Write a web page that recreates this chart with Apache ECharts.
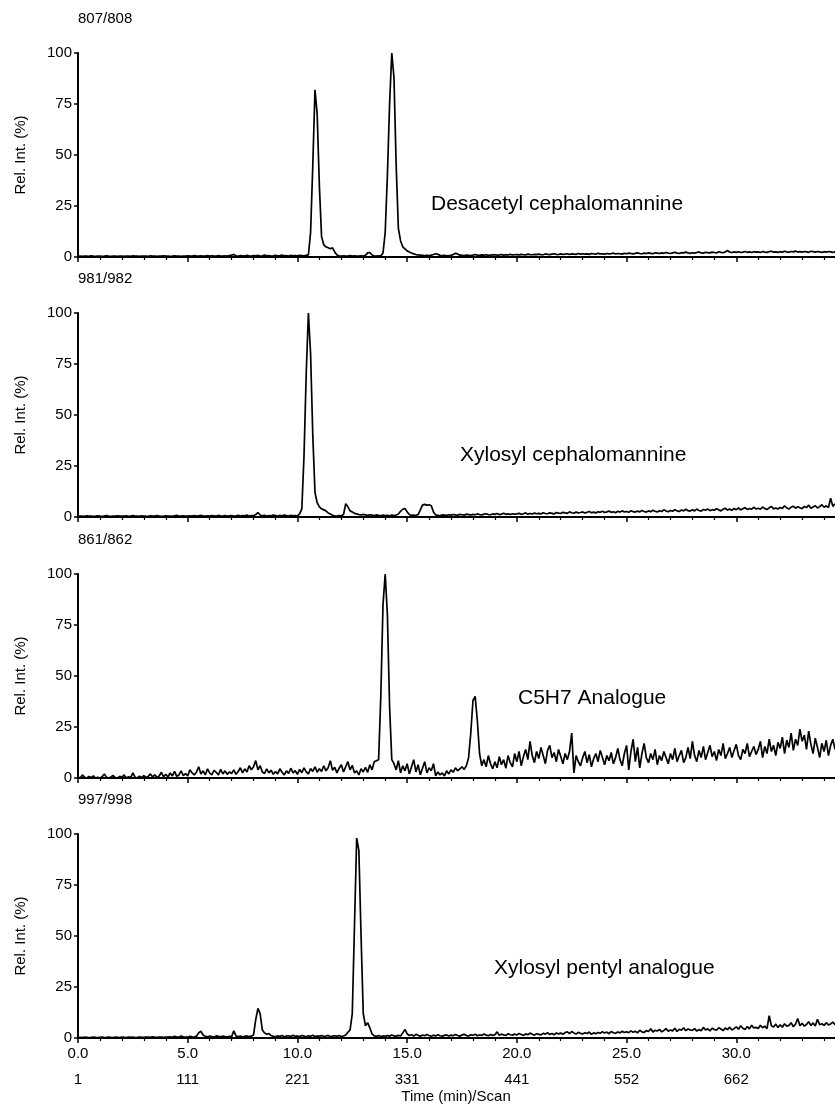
<!DOCTYPE html>
<html>
<head>
<meta charset="utf-8">
<script src="https://cdn.jsdelivr.net/npm/echarts@6/dist/echarts.min.js"></script>
<style>
  html, body { margin: 0; padding: 0; background: #fff; }
  #chart { width: 835px; height: 1105px; }
</style>
</head>
<body>
<div id="chart"></div>
<script>
// one point every 0.1 min
const timeStep = 0.1;
const timeTicks = ['0.0', '5.0', '10.0', '15.0', '20.0', '25.0', '30.0'];
const scanTicks = ['1', '111', '221', '331', '441', '552', '662'];
const ionLabels = ['807/808', '981/982', '861/862', '997/998'];
const compoundNames = ['Desacetyl cephalomannine', 'Xylosyl cephalomannine', 'C5H7 Analogue', 'Xylosyl pentyl analogue'];

const trace807 = [
  0.3,0.4,0.3,0.5,0.4,0.3,0.6,0.4,0.3,0.4,
  0.5,0.3,0.4,0.6,0.4,0.3,0.5,0.4,0.3,0.5,
  0.4,0.3,0.5,0.4,0.3,0.6,0.4,0.5,0.3,0.4,
  0.5,0.4,0.3,0.6,0.5,0.4,0.3,0.5,0.4,0.6,
  0.4,0.5,0.3,0.4,0.6,0.5,0.4,0.3,0.5,0.4,
  0.6,0.4,0.5,0.7,0.4,0.5,0.6,0.4,0.5,0.7,
  0.5,0.6,0.4,0.5,0.7,0.5,0.4,0.6,0.5,0.7,
  0.9,1.2,0.6,0.5,0.7,0.6,0.5,0.8,0.6,0.5,
  0.7,0.6,0.8,0.5,0.6,0.9,0.6,0.7,0.5,0.6,
  0.8,0.6,0.7,0.9,0.6,0.7,0.5,0.8,0.6,0.7,
  0.6,0.8,0.7,0.6,0.8,1.0,12,45,82,70,
  35,10,6,5,4.5,4,4.5,2.5,1,0.6,
  0.5,0.6,0.4,0.5,0.7,0.5,0.6,0.5,0.4,0.6,
  0.5,0.8,2,2.2,1,0.6,0.5,0.6,0.5,2,
  12,40,75,100,88,45,14,8,5,4,
  3,2.5,2,1.5,1.2,1,0.9,0.8,0.7,0.8,
  0.7,0.9,1.2,1.6,1.3,0.8,0.7,0.8,0.6,0.7,
  0.8,1.2,1.8,1.5,0.9,0.8,0.7,0.9,0.8,0.7,
  0.9,1.2,0.9,0.8,1,0.9,1.1,0.8,0.9,1,
  1.1,0.9,1,1.2,0.9,1.1,1,1.3,1,1.1,
  1.2,1,1.3,1.1,1,1.4,1.2,1.1,1.3,1.2,
  1.4,1.2,1.1,1.5,1.3,1.2,1.4,1.6,1.3,1.2,
  1.5,1.3,1.4,1.6,1.2,1.5,1.4,1.3,1.7,1.4,
  1.6,1.4,1.5,1.3,1.7,1.5,1.4,1.8,1.5,1.6,
  1.4,1.7,1.5,1.6,1.9,1.5,1.7,1.6,1.4,1.8,
  1.6,1.9,1.7,1.5,1.8,2,1.7,1.6,1.9,1.7,
  2,1.8,1.6,2.1,1.9,1.7,2,1.8,2.2,1.9,
  1.7,2,2.3,1.9,1.8,2.1,2,2.4,2,1.8,
  2.1,1.9,2.2,2.5,2,1.9,2.3,2.1,2,2.4,
  2.2,2,2.6,2.3,2.1,2.5,3.2,2.4,2.2,2.5,
  2.3,2.6,2.2,2.4,2.7,2.3,2.5,2.2,2.6,2.4,
  2.5,2.2,2.7,2.4,2.3,2.6,2.8,2.4,2.5,2.3,
  2.6,2.4,2.8,2.5,2.3,2.7,2.5,2.9,2.4,2.6,
  2.4,2.7,2.5,2.3,2.8,2.6,2.4,2.7,2.5,2.3,
  2.6,2.4,2.7,2.5,2.3,2.5
];

const trace981 = [
  0.3,0.5,0.4,0.3,0.6,0.4,0.5,0.3,0.4,0.6,
  0.4,0.3,0.5,0.7,0.4,0.3,0.5,0.4,0.6,0.5,
  0.5,0.4,0.6,0.3,0.5,0.7,0.4,0.5,0.3,0.6,
  0.5,0.4,0.3,0.6,0.5,0.4,0.7,0.5,0.3,0.4,
  0.6,0.4,0.5,0.3,0.6,0.8,0.5,0.4,0.6,0.5,
  0.4,0.6,0.5,0.7,0.4,0.6,0.8,0.5,0.4,0.6,
  0.5,0.7,0.6,0.4,0.8,0.6,0.5,0.7,0.4,0.6,
  0.7,0.5,0.6,0.8,0.5,0.7,0.6,0.9,0.5,0.7,
  0.6,1.2,2.2,1,0.6,0.8,0.5,0.7,0.6,0.9,
  0.7,0.5,0.8,0.6,0.9,0.7,0.5,0.8,0.6,0.7,
  0.5,1.5,4,30,70,100,80,40,12,7,
  5,4,3.5,3,2,1.5,0.8,0.6,0.5,0.7,
  0.6,1.2,6.5,5,3,2.5,1.8,1.5,1.2,1,
  1.3,1,0.8,1.1,0.9,0.7,1,0.8,0.6,0.9,
  0.7,0.8,0.6,0.9,0.7,1,1.5,2.8,3.8,4.2,
  2.5,1.2,0.8,0.9,0.7,1.2,3.5,5.8,6.2,5.8,
  6,5.5,2.5,1,0.8,0.7,1,0.9,0.8,1.1,
  0.9,1.2,1,0.8,1.3,1.1,0.9,1.4,1.2,1,
  1.3,1.1,1.5,1.2,1,1.4,1.6,1.2,1.1,1.5,
  1.3,1.7,1.2,1.4,1.8,1.3,1.5,1.2,1.6,1.4,
  1.5,1.8,1.3,1.6,2,1.4,1.7,1.5,1.9,1.6,
  1.8,1.5,2.1,1.7,1.6,2,1.8,1.5,2.2,1.9,
  1.7,2.3,2,1.8,2.5,2.1,1.9,2.4,2,2.2,
  2.5,2,2.3,2.7,2.1,2.4,2,2.6,2.3,2.8,
  2.2,2.5,2.9,2.3,2.6,2.1,2.8,2.4,3,2.5,
  2.7,2.3,3.1,2.6,2.4,2.9,2.5,3.2,2.7,2.4,
  3,2.6,3.3,2.8,2.5,3.1,2.7,3.5,2.9,2.6,
  3.2,2.8,3.6,3,2.7,3.4,3,3.8,3.1,2.9,
  3.5,3,3.9,3.2,2.9,3.7,3.3,4,3.1,3.6,
  3.3,4.1,3.5,3,3.8,4.3,3.4,3.9,3.2,4.2,
  3.6,4.4,3.5,4,4.6,3.7,4.2,3.8,4.8,3.9,
  4.3,3.8,4.9,4.1,3.7,4.5,5.2,4,4.4,3.9,
  4.7,4.2,5.5,4.4,3.9,4.8,5.3,4.3,5,4.5,
  4.1,5.2,4.6,5.8,4.3,4.9,5.5,4.4,5.1,6,
  4.8,5.5,4.6,9.2,5.2,6.5
];

const trace861 = [
  0.5,0,1.5,0.3,0,0.8,0.2,1,0,0.4,
  0,0.6,2,0.3,0,0.5,1.2,0.2,0,0.8,
  0.3,1.5,0,0.6,0.2,2.5,0.4,0,0.9,0.3,
  1.2,0.2,0.8,2,0.5,1.5,0.3,1,2.8,0.6,
  1.8,0.5,2.5,1,3.2,0.8,1.5,3.5,1.2,2.2,
  1,4,2.5,1.5,3,5.5,2,3.5,1.5,4.5,
  2.5,1.5,3.8,2.8,1.5,4.2,2,3.5,1.8,3,
  2.2,4,1.8,3.2,5,2.5,4.5,3,6,4,
  5.5,8.5,4,6,3,2.2,4.5,2.5,3.8,1.8,
  3.2,2,4.5,2.8,1.5,3.5,2.2,4.8,2.5,3.6,
  1.8,4.2,2.6,5,3,2,4.6,3.2,5.5,2.8,
  4.5,3.2,6,3.5,5,8.5,3.8,5.2,2.5,4.8,
  6.5,3,5.5,8,4,6.2,2.5,3.5,1.5,4.5,
  3,5.2,2.8,6.5,4,8,8.5,9,40,85,
  100,80,35,9,7,4,8.5,2.5,6,3.5,
  7,2,5.5,9,3,6.5,1.5,4.8,8,2.5,
  5,3.5,7,1,3,1.5,2.5,1,3.5,2,
  4,2.8,5,3.5,4.5,5.5,4.2,6,10,22,
  38,40,28,12,6,9,5.5,11,7,4.5,
  8,5,10.5,6.5,9,4.8,11,7.5,5.5,12,
  8,13,6,10.5,14,9,18,11,7.5,13,
  9.5,15,11,7,13.5,16,10,12.5,8,14,
  10.5,7,12,9,13,22,2.5,11,8,6,
  10,13,7.5,11.5,5.5,9.5,12,8,13.5,10,
  6.5,11,8.5,12.5,7,10,14.5,9,6,12,
  16,4,13,19,8,15,5,12,17,10,
  7.5,12,9,14,6.5,11,8.5,13,10,7,
  12,9,14.5,8,11,13.5,7.5,10,15,9.5,
  18,11,8,13.5,10,15.5,9,12.5,16,10.5,
  13,8.5,14,11,17,9.5,12,15,10,13.5,
  16.5,11,9,14,12,17,10.5,13,15.5,11.5,
  14,18,10,15.5,12,19,13,16,11,17.5,
  14.5,20,12,18.5,15,22,13.5,19,16,24,
  18,21,14,23,16.5,12,19.5,15,10,17,
  13,18.5,11,16,19,14
];

const trace997 = [
  0.2,0.3,0.2,0.4,0.3,0.2,0.3,0.5,0.3,0.2,
  0.3,0.4,0.2,0.3,0.5,0.3,0.2,0.4,0.3,0.2,
  0.4,0.3,0.2,0.5,0.3,0.4,0.2,0.3,0.5,0.3,
  0.3,0.5,0.4,0.3,0.6,0.4,0.3,0.5,0.4,0.3,
  0.5,0.4,0.6,0.3,0.8,0.5,0.4,1,0.6,0.5,
  0.4,0.8,0.6,0.5,0.9,2.5,3.3,1.5,0.8,0.6,
  0.9,0.7,0.5,1,0.8,0.6,0.9,0.7,0.5,0.8,
  0.6,3.5,1,0.7,0.9,0.6,0.8,1,0.7,0.9,
  1.5,9,14.5,12,4,2.5,1.8,2.2,1.2,0.8,
  0.7,1,0.8,1.2,0.6,0.9,1.1,0.7,1.3,0.8,
  1,0.7,1.2,0.9,0.6,1.1,0.8,1.3,0.7,1,
  0.8,1.2,0.7,1,1.3,0.6,0.9,1.1,0.8,1.2,
  0.7,1,1.5,2.8,4,12,55,98,92,50,
  12,6,7.5,5,2,1,0.8,1.2,0.7,1,
  0.8,1.2,0.9,1.5,1,0.8,1.3,1,2.5,4.2,
  2,1.2,1.6,1,1.8,1.3,0.9,1.5,1.1,1.7,
  1.2,0.8,1.4,1,1.6,1.1,0.9,1.3,1.5,1,
  1.4,1.1,1.7,1.2,0.9,1.5,1.8,1.2,1,1.6,
  1.3,1.8,1.1,1.5,1.2,2,1.4,1.1,1.7,1.3,
  1.6,3,1.3,1.9,1.5,1.2,2.1,1.6,1.4,1.9,
  1.5,2.2,1.7,1.3,2,1.6,2.4,1.8,1.4,2.1,
  1.8,1.5,2.3,1.9,2.6,1.7,2.2,1.6,2.5,2,
  2.4,1.8,2.7,3,2.1,3.2,2.5,1.9,2.8,2.3,
  2,2.6,2.2,2.9,1.8,2.5,2.1,2.7,2.3,3.1,
  2.4,2.9,2.1,3.2,2.6,2.3,3,2.5,3.3,2.7,
  3.1,2.6,3.5,2.8,3.3,2.5,3.8,3,2.7,3.6,
  3.2,4.5,2.9,3.8,3.4,4.2,3,3.7,4.6,3.3,
  3.9,3.5,4.8,3.2,4.3,3.8,5,3.6,4.4,4,
  3.7,4.6,3.4,4.1,3.6,5.2,3.9,4.5,3.5,4.8,
  4.2,3.8,5,4.4,3.6,4.9,4.1,5.3,3.9,4.6,
  5.5,4.3,6,4.8,4.2,5.6,4.5,6.3,4.9,5.2,
  4.7,6.2,5,5.8,4.6,11,6,5.4,6.8,5.1,
  6.5,5.3,7,5.8,6.2,7.5,5.5,6.8,9.5,6,
  7.2,5.8,6.6,8,6.1,7.4,5.9,9.2,6.5,7,
  6.2,7.5,6.4,6.9,7.8,6.5
];

const traces = [trace807, trace981, trace861, trace997];

const FONT = '"Liberation Sans", Arial, Helvetica, sans-serif';
const gridTops = [53, 313, 574, 834];
const gridHeight = 204;
const namePos = [[431, 204], [460, 455], [518, 698], [494, 968]];

var chart = echarts.init(document.getElementById('chart'), null, { renderer: 'canvas' });

const grids = [], xAxes = [], yAxes = [], series = [], graphics = [];

traces.forEach(function (trace, k) {
    const last = k === traces.length - 1;
    // axis runs 0-35 min, the last half minute falls off the right edge
    grids.push({
        left: 78, top: gridTops[k], width: 768, height: gridHeight,
        containLabel: false, outerBoundsMode: 'none'
    });

    xAxes.push({
        type: 'value', gridIndex: k, min: 0, max: 35, interval: 5,
        axisLine: { lineStyle: { color: '#000', width: 2 } },
        axisTick: { show: true, inside: false, length: 5, lineStyle: { color: '#000', width: 1.5 } },
        minorTick: { show: true, splitNumber: 5, length: 3, lineStyle: { color: '#000', width: 1.2 } },
        splitLine: { show: false },
        axisLabel: {
            show: last,
            margin: 3,
            fontFamily: FONT, fontSize: 15, color: '#000', lineHeight: 26,
            formatter: function (v) {
                const i = Math.round(v / 5);
                if (Math.abs(v - i * 5) > 1e-6 || i >= timeTicks.length) return '';
                return timeTicks[i] + '\n' + scanTicks[i];
            }
        }
    });

    yAxes.push({
        type: 'value', gridIndex: k, min: 0, max: 100, interval: 25,
        axisLine: { show: true, lineStyle: { color: '#000', width: 2 } },
        axisTick: { show: true, inside: false, length: 4, lineStyle: { color: '#000', width: 1.5 } },
        splitLine: { show: false },
        axisLabel: { margin: 6, fontFamily: FONT, fontSize: 15, color: '#000' }
    });

    series.push({
        type: 'line', xAxisIndex: k, yAxisIndex: k,
        data: trace.map(function (v, i) { return [+(i * timeStep).toFixed(1), v]; }),
        showSymbol: false, symbol: 'none',
        lineStyle: { color: '#000', width: 1.7 },
        silent: true
    });

    // ion label above each panel
    graphics.push({
        type: 'text', x: 78, y: gridTops[k] - 34,
        style: { text: ionLabels[k], font: '15px ' + FONT, fill: '#000', textAlign: 'left', textVerticalAlign: 'middle' }
    });
    // y-axis title
    graphics.push({
        type: 'text', x: 21, y: gridTops[k] + gridHeight / 2, rotation: Math.PI / 2,
        style: { text: 'Rel. Int. (%)', font: '15px ' + FONT, fill: '#000', textAlign: 'center', textVerticalAlign: 'middle' }
    });
    // compound name
    graphics.push({
        type: 'text', x: namePos[k][0], y: namePos[k][1],
        style: { text: compoundNames[k], font: '21px ' + FONT, fill: '#000', textAlign: 'left', textVerticalAlign: 'middle' }
    });
});

graphics.push({
    type: 'text', x: 456, y: 1097,
    style: { text: 'Time (min)/Scan', font: '15px ' + FONT, fill: '#000', textAlign: 'center', textVerticalAlign: 'middle' }
});

const option = {
    animation: false,
    backgroundColor: '#fff',
    grid: grids,
    xAxis: xAxes,
    yAxis: yAxes,
    series: series,
    graphic: graphics
};

chart.setOption(option);
window.addEventListener('resize', chart.resize);
</script>
</body>
</html>
